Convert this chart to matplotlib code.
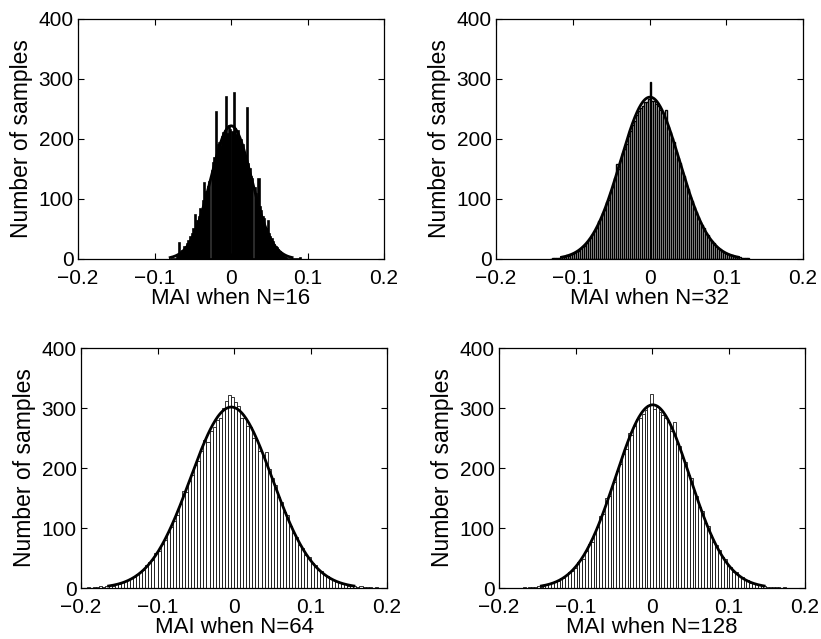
import numpy as np
import matplotlib
matplotlib.use("Agg")
import matplotlib.pyplot as plt

plt.rcParams['font.family'] = ['Liberation Sans', 'DejaVu Sans']

# histogram counts, 100 bins each
counts_16 = [0, 0, 0, 0, 3, 6, 26, 10, 14, 12,
             20, 20, 25, 30, 36, 34, 41, 50, 74, 47,
             63, 70, 84, 80, 97, 126, 99, 112, 120, 128,
             0, 146, 160, 168, 245, 176, 190, 194, 186, 204,
             210, 214, 270, 208, 221, 215, 0, 212, 277, 216,
             207, 213, 200, 198, 186, 190, 176, 165, 251, 158,
             150, 136, 134, 0, 118, 108, 100, 134, 86, 80,
             70, 66, 52, 50, 64, 42, 37, 33, 28, 24,
             20, 18, 15, 12, 10, 8, 6, 4, 2, 0,
             0, 0, 0, 0, 0, 0, 0, 0, 0, 1]

counts_32 = [0, 1, 1, 2, 2, 3, 4, 3, 6, 5,
             8, 9, 10, 13, 14, 18, 21, 22, 26, 31,
             35, 42, 46, 52, 63, 66, 77, 82, 95, 99,
             112, 120, 135, 158, 150, 165, 176, 184, 192, 205,
             214, 224, 230, 240, 246, 252, 255, 262, 262, 266,
             295, 264, 263, 259, 255, 249, 245, 238, 248, 220,
             212, 201, 195, 178, 168, 160, 145, 138, 124, 116,
             104, 96, 87, 79, 70, 62, 56, 51, 44, 40,
             33, 30, 26, 22, 19, 16, 14, 12, 10, 8,
             7, 6, 5, 4, 3, 3, 2, 1, 1, 1]

counts_64 = [0, 0, 1, 0, 2, 1, 3, 2, 3, 5,
             4, 7, 6, 10, 12, 13, 17, 18, 24, 27,
             30, 38, 43, 47, 58, 62, 74, 80, 93, 101,
             112, 122, 140, 162, 160, 178, 188, 205, 212, 229,
             247, 244, 262, 268, 280, 283, 300, 312, 322, 318,
             310, 303, 283, 284, 270, 268, 250, 246, 228, 222,
             226, 198, 183, 172, 152, 144, 127, 121, 104, 92,
             85, 72, 66, 55, 51, 41, 38, 30, 28, 22,
             20, 15, 14, 11, 10, 6, 7, 4, 5, 3,
             2, 3, 1, 2, 1, 0, 1, 0, 0, 0]

counts_128 = [0, 0, 0, 1, 0, 1, 2, 1, 3, 2,
              4, 7, 6, 9, 11, 12, 16, 17, 22, 27,
              29, 34, 43, 46, 49, 62, 73, 77, 94, 101,
              120, 124, 150, 153, 168, 177, 195, 206, 224, 232,
              258, 255, 270, 282, 283, 290, 296, 305, 324, 299,
              301, 294, 288, 283, 277, 262, 276, 240, 237, 216,
              210, 188, 183, 162, 153, 135, 128, 109, 103, 88,
              77, 72, 64, 52, 49, 38, 35, 27, 26, 20,
              18, 13, 13, 9, 8, 6, 5, 3, 4, 2,
              2, 1, 2, 1, 0, 1, 0, 0, 0, 0]

# data range covered by the bins of each histogram
range_16 = (-0.078, 0.092)
range_32 = (-0.13, 0.13)
range_64 = (-0.2, 0.2)
range_128 = (-0.18, 0.19)

x_labels = ['MAI when N=16', 'MAI when N=32', 'MAI when N=64', 'MAI when N=128']
x_ticks = [-0.2, -0.1, 0, 0.1, 0.2]
x_tick_labels = ['\u22120.2', '\u22120.1', '0', '0.1', '0.2']
y_ticks = [0, 100, 200, 300, 400]

panels = [(counts_16, range_16), (counts_32, range_32),
          (counts_64, range_64), (counts_128, range_128)]

W, H = 821, 639
# axes boxes in pixels: left, top, right, bottom
boxes = [(78, 19, 384, 259), (496, 19, 803, 259),
         (81, 348, 387, 588), (499, 348, 805, 588)]
edge_widths = [1.2, 1.0, 0.55, 0.55]
face_colors = ['black', 'white', 'white', 'white']

fig = plt.figure(figsize=(W / 100, H / 100), dpi=100)

for k, ((counts, (lo, hi)), box) in enumerate(zip(panels, boxes)):
    l, t, r, b = box
    ax = fig.add_axes([l / W, (H - b) / H, (r - l) / W, (b - t) / H])

    counts = np.array(counts, dtype=float)
    bw = (hi - lo) / len(counts)
    centers = lo + bw * (np.arange(len(counts)) + 0.5)
    ax.bar(centers, counts, width=bw, facecolor=face_colors[k], edgecolor='black',
           linewidth=edge_widths[k], zorder=2)

    # normal fit of the histogram (like histfit)
    total = counts.sum()
    mu = (counts * centers).sum() / total
    sd = np.sqrt((counts * (centers - mu) ** 2).sum() / total)
    xf = np.linspace(mu - 3 * sd, mu + 3 * sd, 300)
    yf = total * bw / (sd * np.sqrt(2 * np.pi)) * np.exp(-0.5 * ((xf - mu) / sd) ** 2)
    ax.plot(xf, yf, color='black', linewidth=2.0, zorder=3)

    ax.set_xlim(-0.2, 0.2)
    ax.set_ylim(0, 400)
    ax.set_xticks(x_ticks)
    ax.set_xticklabels(x_tick_labels)
    ax.set_yticks(y_ticks)
    ax.tick_params(direction='in', length=4, width=0.8, top=True, right=True,
                   labelsize=15)
    ax.tick_params(axis='x', pad=7.5)
    ax.tick_params(axis='y', pad=3)
    for s in ax.spines.values():
        s.set_linewidth(0.9)
    ax.set_xlabel(x_labels[k], fontsize=16, labelpad=0)
    ax.set_ylabel('Number of samples', fontsize=16.5, labelpad=4)

fig.savefig('out.png', dpi=100, facecolor='white')
